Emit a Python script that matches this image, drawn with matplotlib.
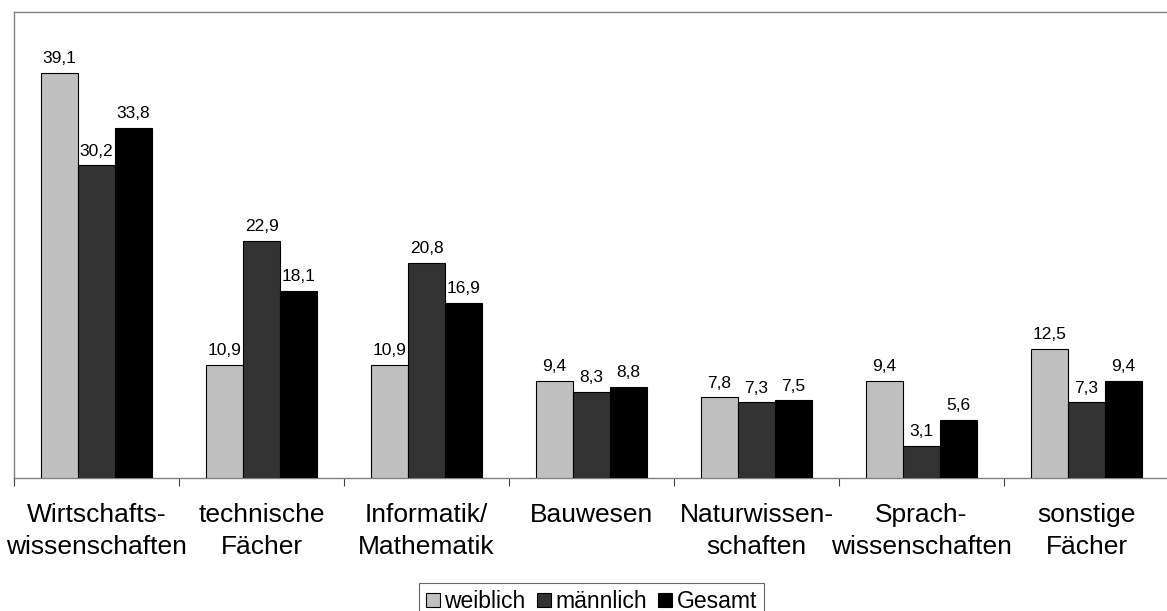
import numpy as np
import matplotlib
matplotlib.use("Agg")
import matplotlib.pyplot as plt
from matplotlib.patches import Patch

plt.rcParams['font.family'] = ['Liberation Sans', 'DejaVu Sans']

categories = ["Wirtschafts-\nwissenschaften", "technische\nFächer", "Informatik/\nMathematik",
              "Bauwesen", "Naturwissen-\nschaften", "Sprach-\nwissenschaften", "sonstige\nFächer"]
weiblich = [39.1, 10.9, 10.9, 9.4, 7.8, 9.4, 12.5]
maennlich = [30.2, 22.9, 20.8, 8.3, 7.3, 3.1, 7.3]
gesamt = [33.8, 18.1, 16.9, 8.8, 7.5, 5.6, 9.4]
series_names = ["weiblich", "männlich", "Gesamt"]
colors = ["#C0C0C0", "#333333", "#000000"]

W, H = 1167, 611
fig = plt.figure(figsize=(W / 100, H / 100), dpi=100)
# axes from x=14 to 1169 px, y=12 to 478 px
ax = fig.add_axes([14 / W, 1 - 478 / H, 1155 / W, 466 / H])

x = np.arange(len(categories))
bw = 0.224
for i, (vals, col) in enumerate(zip([weiblich, maennlich, gesamt], colors)):
    pos = x + (i - 1) * bw
    ax.bar(pos, vals, width=bw, color=col, edgecolor="black", linewidth=0.8, zorder=3)
    for px, v in zip(pos, vals):
        ax.annotate(f"{v:.1f}".replace(".", ","), (px, v), xytext=(0, 7),
                    textcoords="offset points", ha="center", va="baseline", fontsize=12.5)

ax.set_xlim(-0.5, len(categories) - 0.5)
ax.set_ylim(0, 45)
ax.set_yticks([])
ax.set_xticks(x)
ax.set_xticklabels(categories, fontsize=19, linespacing=1.42)
ax.tick_params(axis="x", which="major", length=0, pad=18)
ax.set_xticks(np.arange(len(categories) + 1) - 0.5, minor=True)
ax.tick_params(axis="x", which="minor", length=6, width=0.8, color="#404040", direction="out")

for s in ["left", "top", "bottom"]:
    ax.spines[s].set_color("#808080")
    ax.spines[s].set_linewidth(1.0)
ax.spines["right"].set_visible(False)

handles = [Patch(facecolor=c, edgecolor="black", linewidth=0.8) for c in colors]
leg = fig.legend(handles, series_names, loc="upper left", bbox_to_anchor=(419 / W, 1 - 583 / H),
                 ncol=3, fontsize=16.5, frameon=True, fancybox=False, handlelength=0.6,
                 handleheight=0.6, handletextpad=0.2, columnspacing=0.5, borderpad=0.3,
                 borderaxespad=0)
leg.get_frame().set_edgecolor("#404040")
leg.get_frame().set_linewidth(0.8)

fig.savefig("out.png", dpi=100)
